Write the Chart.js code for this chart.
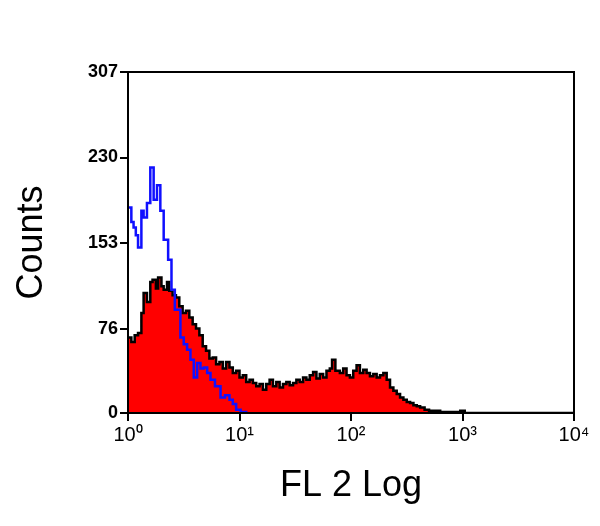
<!DOCTYPE html>
<html><head><meta charset="utf-8">
<script src="https://cdn.jsdelivr.net/npm/chart.js@4"></script>
<style>html,body{margin:0;background:#fff}#w{width:600px;height:526px}</style>
</head><body><div id="w"><canvas id="c"></canvas></div>
<script>
const redX=[0,.03,.06,.09,.12,.14,.17,.2,.22,.25,.27,.3,.32,.35,.37,.4,.43,.46,.49,.52,.55,.58,.61,.64,.67,.7,.73,.76,.79,.82,.85,.88,.91,.94,.97,1.0,1.03,1.06,1.09,1.12,1.15,1.18,1.21,1.24,1.27,1.3,1.33,1.36,1.39,1.42,1.45,1.48,1.51,1.54,1.57,1.6,1.63,1.66,1.69,1.72,1.75,1.78,1.81,1.83,1.86,1.9,1.93,1.96,1.99,2.02,2.05,2.08,2.11,2.14,2.17,2.2,2.23,2.26,2.29,2.32,2.35,2.38,2.41,2.44,2.47,2.5,2.53,2.56,2.59,2.62,2.66,2.7,2.75,2.8,2.9,2.98,3.02,4];
const redY=[68,64,70,72,90,108,100,118,120,112,122,114,111,118,110,106,104,96,90,92,86,80,76,70,60,56,49,50,44,46,40,46,41,36,38,32,34,28,30,27,24,26,21,26,30,24,28,23,26,28,25,27,30,28,32,30,34,37,31,35,32,38,40,48,38,36,40,34,32,38,43,36,39,36,33,35,32,34,36,30,23,20,17,14,12,10,9,7,6,5,3,2,2,1,1,2,0,0];
const blueX=[0,.03,.05,.07,.09,.12,.14,.17,.2,.23,.26,.29,.32,.36,.39,.42,.47,.5,.53,.56,.59,.62,.65,.68,.71,.74,.78,.83,.87,.91,.94,.97,1.01,1.06];
const blueY=[185,172,167,160,149,182,176,189,221,192,205,182,156,138,111,93,68,62,57,48,32,45,40,41,36,30,24,14,16,12,8,3,1,0];
const yTicks=[0,76,153,230,307];
const xTickLabels=['10⁰','10¹','10²','10³','10⁴'];
const border={id:'border',afterDraw(ch){const a=ch.chartArea,c=ch.ctx;c.save();c.strokeStyle='#000';c.lineWidth=2;c.strokeRect(a.left,a.top,a.right-a.left,a.bottom-a.top);c.restore();}};
new Chart(document.getElementById('c'),{type:'line',
data:{datasets:[
{data:blueX.map((x,i)=>({x,y:blueY[i]})),borderColor:'#1010ff',borderWidth:2.5,stepped:true,pointRadius:0,fill:false},
{data:redX.map((x,i)=>({x,y:redY[i]})),borderColor:'#000',backgroundColor:'#ff0000',borderWidth:2.5,stepped:true,pointRadius:0,fill:'origin'}
]},
options:{responsive:true,maintainAspectRatio:false,animation:false,
layout:{padding:{top:72,right:26,left:10,bottom:18}},
plugins:{legend:{display:false},tooltip:{enabled:false}},
scales:{
x:{type:'linear',min:0,max:4,grid:{display:true,drawOnChartArea:false,drawTicks:true,tickLength:8,color:'#000',lineWidth:2},border:{color:'#000',width:2},
 ticks:{stepSize:1,color:'#000',padding:2,font:{family:'Liberation Sans',size:20},callback:v=>xTickLabels[v]},
 title:{display:true,text:'FL 2 Log',color:'#000',font:{family:'Liberation Sans',size:36},padding:0},
 afterFit(s){s.height=95;}},
y:{min:0,max:307,grid:{display:true,drawOnChartArea:false,drawTicks:true,tickLength:8,color:'#000',lineWidth:2},border:{color:'#000',width:2},
 afterBuildTicks(s){s.ticks=yTicks.map(v=>({value:v}));},
 ticks:{color:'#000',padding:2,font:{family:'Liberation Sans',size:18,weight:'bold'}},
 title:{display:true,text:'Counts',color:'#000',font:{family:'Liberation Sans',size:36},padding:0},
 afterFit(s){s.width=118;}}
}},plugins:[border]});
</script></body></html>
